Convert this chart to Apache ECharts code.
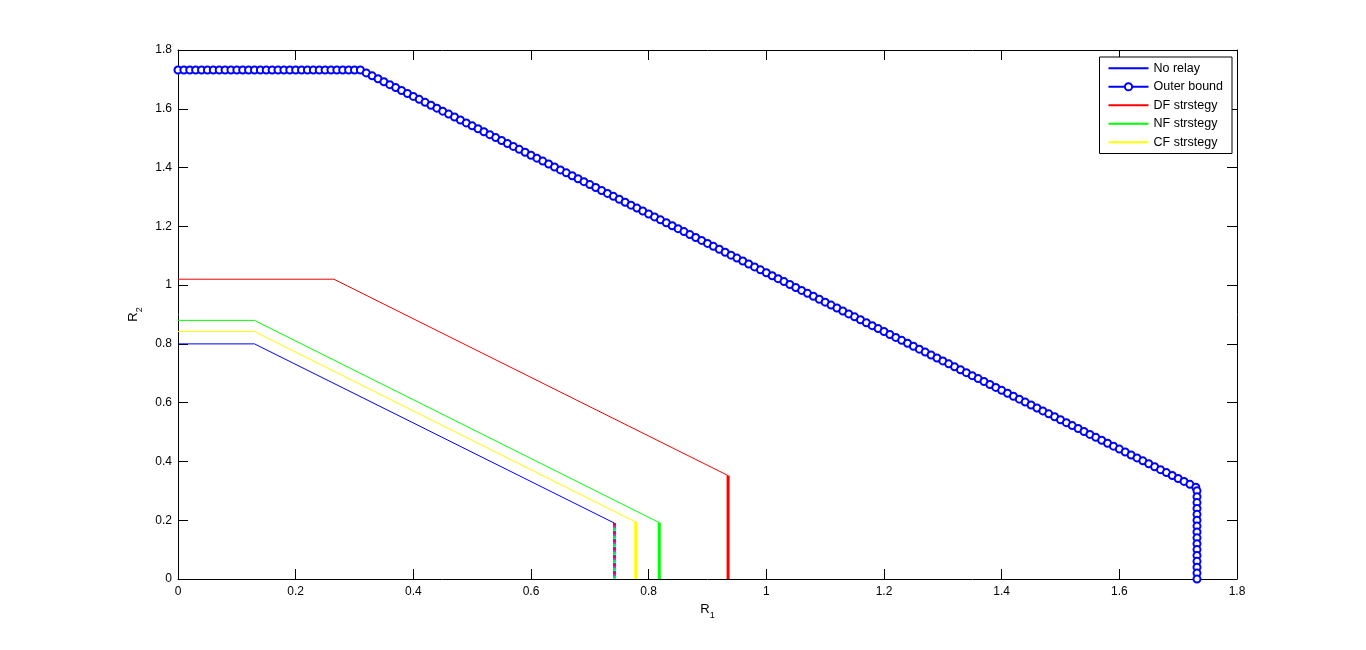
<!DOCTYPE html>
<html>
<head>
<meta charset="utf-8">
<script src="https://cdn.jsdelivr.net/npm/echarts@6/dist/echarts.min.js"></script>
<style>html,body{margin:0;padding:0;background:#fff;}#c{width:1366px;height:650px;}</style>
</head>
<body>
<div id="c"></div>
<script>
// ---- data ----
const noRelayR1 = [0, 0.13, 0.742, 0.742];
const noRelayR2 = [0.80, 0.80, 0.190, 0];
const dfR1 = [0, 0.265, 0.935, 0.935];
const dfR2 = [1.02, 1.02, 0.352, 0];
const nfR1 = [0, 0.13, 0.818, 0.818];
const nfR2 = [0.88, 0.88, 0.192, 0];
const cfR1 = [0, 0.13, 0.778, 0.778];
const cfR2 = [0.842, 0.842, 0.194, 0];
const outerR1 = [
  0,0.01,0.02,0.03,0.04,0.05,0.06,0.07,0.08,0.09,
  0.10,0.11,0.12,0.13,0.14,0.15,0.16,0.17,0.18,0.19,
  0.20,0.21,0.22,0.23,0.24,0.25,0.26,0.27,0.28,0.29,
  0.30,0.31,
  0.32,0.33,0.34,0.35,0.36,0.37,0.38,0.39,0.40,0.41,
  0.42,0.43,0.44,0.45,0.46,0.47,0.48,0.49,0.50,0.51,
  0.52,0.53,0.54,0.55,0.56,0.57,0.58,0.59,0.60,0.61,
  0.62,0.63,0.64,0.65,0.66,0.67,0.68,0.69,0.70,0.71,
  0.72,0.73,0.74,0.75,0.76,0.77,0.78,0.79,0.80,0.81,
  0.82,0.83,0.84,0.85,0.86,0.87,0.88,0.89,0.90,0.91,
  0.92,0.93,0.94,0.95,0.96,0.97,0.98,0.99,1.00,1.01,
  1.02,1.03,1.04,1.05,1.06,1.07,1.08,1.09,1.10,1.11,
  1.12,1.13,1.14,1.15,1.16,1.17,1.18,1.19,1.20,1.21,
  1.22,1.23,1.24,1.25,1.26,1.27,1.28,1.29,1.30,1.31,
  1.32,1.33,1.34,1.35,1.36,1.37,1.38,1.39,1.40,1.41,
  1.42,1.43,1.44,1.45,1.46,1.47,1.48,1.49,1.50,1.51,
  1.52,1.53,1.54,1.55,1.56,1.57,1.58,1.59,1.60,1.61,
  1.62,1.63,1.64,1.65,1.66,1.67,1.68,1.69,1.70,1.71,
  1.72,1.73,
  1.732,1.732,1.732,1.732,1.732,1.732,1.732,1.732,
  1.732,1.732,1.732,1.732,1.732,1.732,1.732,1.732
];
const outerR2 = [
  1.732,1.732,1.732,1.732,1.732,1.732,1.732,1.732,1.732,1.732,
  1.732,1.732,1.732,1.732,1.732,1.732,1.732,1.732,1.732,1.732,
  1.732,1.732,1.732,1.732,1.732,1.732,1.732,1.732,1.732,1.732,
  1.732,1.732,
  1.722,1.712,1.702,1.692,1.682,1.672,1.662,1.652,1.642,1.632,
  1.622,1.612,1.602,1.592,1.582,1.572,1.562,1.552,1.542,1.532,
  1.522,1.512,1.502,1.492,1.482,1.472,1.462,1.452,1.442,1.432,
  1.422,1.412,1.402,1.392,1.382,1.372,1.362,1.352,1.342,1.332,
  1.322,1.312,1.302,1.292,1.282,1.272,1.262,1.252,1.242,1.232,
  1.222,1.212,1.202,1.192,1.182,1.172,1.162,1.152,1.142,1.132,
  1.122,1.112,1.102,1.092,1.082,1.072,1.062,1.052,1.042,1.032,
  1.022,1.012,1.002,0.992,0.982,0.972,0.962,0.952,0.942,0.932,
  0.922,0.912,0.902,0.892,0.882,0.872,0.862,0.852,0.842,0.832,
  0.822,0.812,0.802,0.792,0.782,0.772,0.762,0.752,0.742,0.732,
  0.722,0.712,0.702,0.692,0.682,0.672,0.662,0.652,0.642,0.632,
  0.622,0.612,0.602,0.592,0.582,0.572,0.562,0.552,0.542,0.532,
  0.522,0.512,0.502,0.492,0.482,0.472,0.462,0.452,0.442,0.432,
  0.422,0.412,0.402,0.392,0.382,0.372,0.362,0.352,0.342,0.332,
  0.322,0.312,
  0.30,0.28,0.26,0.24,0.22,0.20,0.18,0.16,
  0.14,0.12,0.10,0.08,0.06,0.04,0.02,0
];
const legendNames = ['No relay', 'Outer bound', 'DF strstegy', 'NF strstegy', 'CF strstegy'];

// ---- helpers ----
function pairs(xs, ys, from, to) {
  const out = [];
  for (let i = from; i < to; i++) out.push([xs[i], ys[i]]);
  return out;
}
const FONT = 'Liberation Sans, Arial, sans-serif';
function curve(name, xs, ys, color) {
  return [
    { name: name, type: 'line', data: pairs(xs, ys, 0, 3), symbol: 'none',
      lineStyle: { color: color, width: 1 }, itemStyle: { color: color }, z: 3 },
    { name: name + ' v', type: 'line', data: pairs(xs, ys, 2, 4), symbol: 'none',
      lineStyle: { color: color, width: 3 }, itemStyle: { color: color }, z: 3 }
  ];
}

const series = [];
series.push(...curve(legendNames[0], noRelayR1, noRelayR2, '#0000ff'));
series.push({
  name: 'Outer bound', type: 'line', data: pairs(outerR1, outerR2, 0, outerR1.length),
  symbol: 'emptyCircle', symbolSize: 7, showSymbol: true,
  lineStyle: { color: '#0000ff', width: 1 },
  itemStyle: { color: '#0000ff', borderColor: '#0000ff', borderWidth: 1 }, z: 4
});
series.push(...curve(legendNames[2], dfR1, dfR2, '#ff0000'));
series.push(...curve(legendNames[3], nfR1, nfR2, '#00ff00'));
series.push(...curve(legendNames[4], cfR1, cfR2, '#ffff00'));
// multicoloured overlay on the No relay vertical
const mixCols = ['#ff0000', '#00ffff', '#00ff00', '#ff00ff'];
mixCols.forEach(function (c, k) {
  series.push({ name: 'mix' + k, type: 'line', data: pairs(noRelayR1, noRelayR2, 2, 4), symbol: 'none',
    lineStyle: { color: c, width: 3, type: [2, 6], dashOffset: k * 2 }, z: 5 });
});

const axisCommon = {
  type: 'value', min: 0, max: 1.8, interval: 0.2,
  splitLine: { show: false },
  axisLine: { show: true, onZero: false, lineStyle: { color: '#000', width: 1 } },
  axisTick: { show: true, inside: true, length: 10, lineStyle: { color: '#000' } }
};
const subRich = {
  r: { fontSize: 13, fontFamily: FONT, color: '#000', verticalAlign: 'bottom', lineHeight: 16 },
  s: { fontSize: 9, fontFamily: FONT, color: '#000', verticalAlign: 'bottom', lineHeight: 10, padding: [0, 0, -4, 0] }
};

const chart = echarts.init(document.getElementById('c'), null, { renderer: 'canvas' });
chart.setOption({
  animation: false,
  backgroundColor: '#ffffff',
  grid: { left: 178, right: 129, top: 50, bottom: 71 },
  legend: {
    data: legendNames.map(function (n) {
      return n === 'Outer bound' ? { name: n } : { name: n, itemStyle: { opacity: 0 } };
    }),
    orient: 'vertical', right: 134, top: 57,
    itemWidth: 40, itemHeight: 9, itemGap: 0,
    padding: [2, 9, 2, 8],
    backgroundColor: '#fff', borderColor: '#000', borderWidth: 1, borderRadius: 0,
    textStyle: { fontFamily: FONT, fontSize: 12.5, color: '#000', lineHeight: 18.5 }
  },
  xAxis: [
    Object.assign({}, axisCommon, {
      position: 'bottom',
      axisLabel: { show: true, margin: 7, fontFamily: FONT, fontSize: 12, color: '#000',
        formatter: function (v) { return String(+v.toFixed(1)); } },
      name: '{r|R}{s|1}', nameLocation: 'middle', nameGap: 18,
      nameTextStyle: { fontFamily: FONT, color: '#000', rich: subRich }
    }),
    Object.assign({}, axisCommon, { position: 'top', axisLabel: { show: false } })
  ],
  yAxis: [
    Object.assign({}, axisCommon, {
      position: 'left',
      axisLabel: { show: true, margin: 6, fontFamily: FONT, fontSize: 12, color: '#000',
        formatter: function (v) { return String(+v.toFixed(1)); } },
      name: '{r|R}{s|2}', nameLocation: 'middle', nameGap: 37, nameRotate: 90,
      nameTextStyle: { fontFamily: FONT, color: '#000', rich: subRich }
    }),
    Object.assign({}, axisCommon, { position: 'right', axisLabel: { show: false } })
  ],
  series: series
});
</script>
</body>
</html>
